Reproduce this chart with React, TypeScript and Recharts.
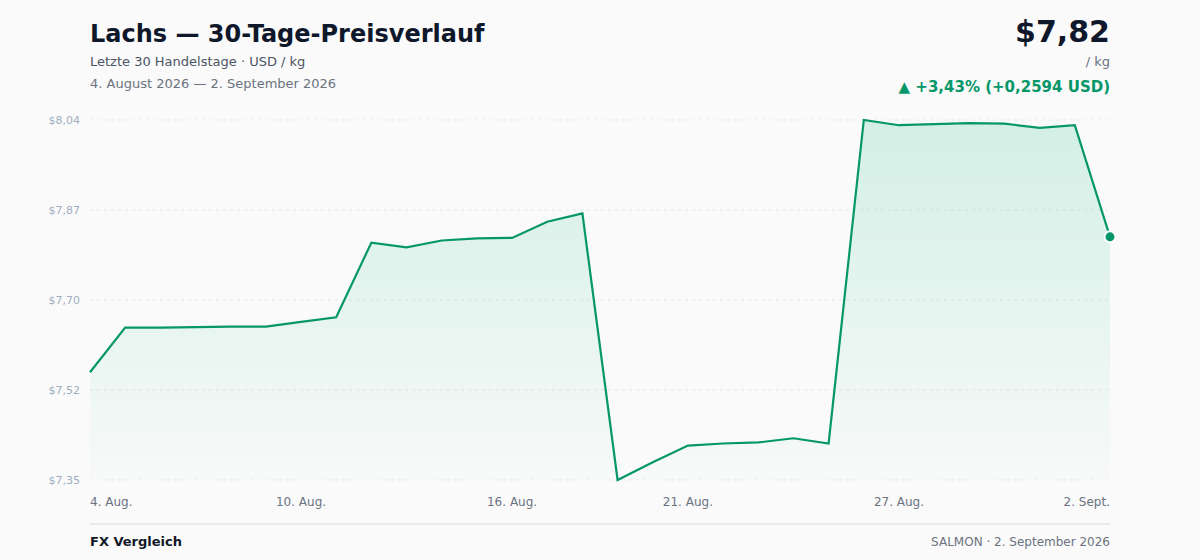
import { AreaChart, Area, XAxis, YAxis, CartesianGrid } from 'recharts';

const days = [
  '4. Aug.', '5. Aug.', '6. Aug.', '7. Aug.', '8. Aug.', '9. Aug.', '10. Aug.', '11. Aug.', '12. Aug.', '13. Aug.',
  '14. Aug.', '15. Aug.', '16. Aug.', '17. Aug.', '18. Aug.', '19. Aug.', '20. Aug.', '21. Aug.', '22. Aug.', '23. Aug.',
  '24. Aug.', '25. Aug.', '26. Aug.', '27. Aug.', '28. Aug.', '29. Aug.', '30. Aug.', '31. Aug.', '1. Sept.', '2. Sept.',
];

const prices = [
  7.5566, 7.642, 7.642, 7.643, 7.644, 7.644, 7.653, 7.662, 7.805, 7.796,
  7.809, 7.813, 7.814, 7.845, 7.861, 7.35, 7.384, 7.416, 7.42, 7.422,
  7.43, 7.42, 8.04, 8.03, 8.032, 8.034, 8.033, 8.025, 8.03, 7.816,
];

const xTicks = ['4. Aug.', '10. Aug.', '16. Aug.', '21. Aug.', '27. Aug.', '2. Sept.'];
const yTicks = [7.35, 7.5225, 7.695, 7.8675, 8.04];
const yTickLabels = ['$7,35', '$7,52', '$7,70', '$7,87', '$8,04'];

const GREEN = '#059669';
const FONT = '"DejaVu Sans", sans-serif';

const chartData = days.map((d, i) => ({ day: d, price: prices[i] }));

const XTick = (props: any) => {
  const { x, y, payload } = props;
  const first = payload.value === xTicks[0];
  const last = payload.value === xTicks[xTicks.length - 1];
  return (
    <text
      x={x}
      y={y}
      dy="0.71em"
      textAnchor={first ? 'start' : last ? 'end' : 'middle'}
      fontSize={12}
      fill="#6b7280"
      fontFamily={FONT}
    >
      {payload.value}
    </text>
  );
};

const LastDot = (props: any) => {
  const { cx, cy, index } = props;
  if (index !== prices.length - 1) return <g key={`d-${index}`} />;
  return <circle key={`d-${index}`} cx={cx} cy={cy} r={5.5} fill={GREEN} stroke="#ffffff" strokeWidth={2} />;
};

const abs = (top: number, extra: any = {}) => ({ position: 'absolute' as const, top, lineHeight: 1, whiteSpace: 'nowrap' as const, ...extra });

export default function App() {
  return (
    <div style={{ position: 'relative', width: 1200, height: 560, background: '#fafafa', fontFamily: FONT, overflow: 'hidden' }}>
      <style>{`body{margin:0}`}</style>

      <div style={abs(21.7, { left: 90, fontSize: 24, fontWeight: 700, color: '#0f172a' })}>Lachs — 30-Tage-Preisverlauf</div>
      <div style={abs(55, { left: 90, fontSize: 13, color: '#4b5563' })}>Letzte 30 Handelstage · USD / kg</div>
      <div style={abs(77, { left: 90, fontSize: 13, color: '#6b7280' })}>4. August 2026 — 2. September 2026</div>

      <div style={abs(17.3, { right: 90, fontSize: 30, fontWeight: 700, color: '#0f172a' })}>$7,82</div>
      <div style={abs(55, { right: 90, fontSize: 13, color: '#6b7280' })}>/ kg</div>
      <div style={abs(80, { right: 90, fontSize: 15, fontWeight: 700, color: GREEN })}>▲ +3,43% (+0,2594 USD)</div>

      <div style={{ position: 'absolute', left: 0, top: 0 }}>
        <AreaChart width={1200} height={560} data={chartData} margin={{ top: 120, right: 90, bottom: 50, left: 30 }}>
          <defs>
            <linearGradient id="fillGreen" x1="0" y1="0" x2="0" y2="1">
              <stop offset="0%" stopColor="#10b981" stopOpacity={0.28} />
              <stop offset="100%" stopColor="#10b981" stopOpacity={0.02} />
            </linearGradient>
          </defs>
          <CartesianGrid vertical={false} stroke="#e5e7eb" strokeDasharray="3 4" />
          <XAxis
            dataKey="day"
            ticks={xTicks}
            interval={0}
            axisLine={false}
            tickLine={false}
            tickSize={0}
            tickMargin={17}
            height={30}
            tick={<XTick />}
          />
          <YAxis
            type="number"
            domain={[7.35, 8.04]}
            ticks={yTicks}
            width={60}
            axisLine={false}
            tickLine={false}
            tickSize={0}
            tickMargin={10}
            tickFormatter={(v: number) => yTickLabels[yTicks.indexOf(v)] ?? ''}
            tick={{ fontSize: 11, fill: '#a0aec0', fontFamily: FONT }}
          />
          <Area
            type="linear"
            dataKey="price"
            stroke={GREEN}
            strokeWidth={2.2}
            fill="url(#fillGreen)"
            dot={<LastDot />}
            activeDot={false}
            isAnimationActive={false}
          />
        </AreaChart>
      </div>

      <div style={{ position: 'absolute', left: 90, top: 523, width: 1020, height: 1.5, background: '#e9ebef' }} />
      <div style={abs(535, { left: 90, fontSize: 13, fontWeight: 700, color: '#111827' })}>FX Vergleich</div>
      <div style={abs(536, { right: 90, fontSize: 12, color: '#6b7280' })}>SALMON · 2. September 2026</div>
    </div>
  );
}
